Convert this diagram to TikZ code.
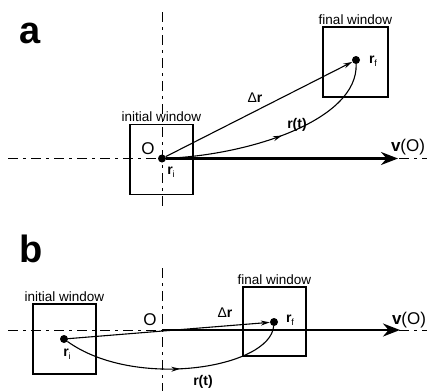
\documentclass[tikz,border=0pt]{standalone}
\usepackage{fontspec}
\setmainfont{Liberation Sans}
\usetikzlibrary{arrows.meta, decorations.markings}

\begin{document}
\begin{tikzpicture}[
  x=1pt, y=-1pt,
  window/.style={rectangle, draw, line width=1.7pt, minimum width=63pt,
                 minimum height=70pt, inner sep=0pt},
  wlbl/.style={font=\fontsize{13.5}{14}\selectfont, inner sep=1.5pt},
  dot/.style={circle, fill, inner sep=0pt, minimum size=8pt},
  panel/.style={font=\fontsize{38}{38}\selectfont\bfseries, inner sep=0pt},
  vlbl/.style={font=\fontsize{14}{14}\selectfont, inner sep=0pt},
  olbl/.style={font=\fontsize{17}{17}\selectfont, inner sep=0pt},
  axis/.style={line width=1pt, dash pattern=on 10pt off 5pt on 3pt off 5pt},
  thinarrow/.style={-{Stealth[length=9pt, width=5pt]}, line width=1.1pt},
  curvearrow/.style={line width=1.1pt, postaction={decorate},
    decoration={markings, mark=at position 0.52 with {\arrow{Stealth[length=9pt, width=5pt]}}}},
  bigarrow/.style={-{Stealth[length=17pt, width=13pt]}, line width=2.2pt}
]
\useasboundingbox (0,0) rectangle (427,391);

% panel a
\node[panel] (pa) at (30,33) {a};
\draw[axis] (162,12) -- (162,206);
\draw[axis] (8,158.5) -- (427,158.5);

\node[window] (wia) at (161.5,159.5) {};
\node[wlbl, anchor=south] (tia) at (wia.north) {initial window};
\node[window, minimum width=65pt] (wfa) at (355.5,62) {};
\node[wlbl, anchor=south] (tfa) at (wfa.north) {final window};

\node[dot] (ria) at (162,158.5) {};
\node[dot] (rfa) at (356,60) {};
\coordinate (vea) at (398,158.5);

\node[olbl] (oa) at (148,149) {O};
\node[vlbl] (lria) at (171,172) {\textbf{r}\raisebox{-0.35ex}{\small i}};
\node[vlbl] (lrfa) at (373,61) {\textbf{r}\raisebox{-0.35ex}{\small f}};
\node[vlbl] (lda) at (255,98) {Δ\textbf{r}};
\node[vlbl] (lta) at (297,125) {\textbf{r(t)}};
\node[olbl] (lva) at (408,147) {\textbf{v}(O)};

\draw[thinarrow] (ria) -- (rfa);
\draw[curvearrow] (ria) .. controls (250,155) and (358,120) .. (rfa);
\draw[bigarrow] (ria) -- (vea);

% panel b
\node[panel] (pb) at (31,249) {b};
\draw[axis] (162,268) -- (162,391);
\draw[axis] (8,330) -- (427,330);

\node[window] (wib) at (64.5,339) {};
\node[wlbl, anchor=south] (tib) at (wib.north) {initial window};
\node[window, minimum height=69pt] (wfb) at (274.5,321.5) {};
\node[wlbl, anchor=south] (tfb) at (wfb.north) {final window};

\node[dot] (rib) at (64,339) {};
\node[dot] (rfb) at (274,322) {};
\coordinate (ob) at (162,330);
\coordinate (veb) at (400,330);

\node[olbl] (obl) at (150,320) {O};
\node[vlbl] (lrib) at (67,354) {\textbf{r}\raisebox{-0.35ex}{\small i}};
\node[vlbl] (lrfb) at (290,320) {\textbf{r}\raisebox{-0.35ex}{\small f}};
\node[vlbl] (ldb) at (225,313) {Δ\textbf{r}};
\node[vlbl] (ltb) at (203,382) {\textbf{r(t)}};
\node[olbl] (lvb) at (409,320) {\textbf{v}(O)};

\draw[thinarrow] (rib) -- (rfb);
\draw[curvearrow] (rib) .. controls (135,390) and (270,368) .. (rfb);
\draw[bigarrow] (ob) -- (veb);

\end{tikzpicture}
\end{document}
